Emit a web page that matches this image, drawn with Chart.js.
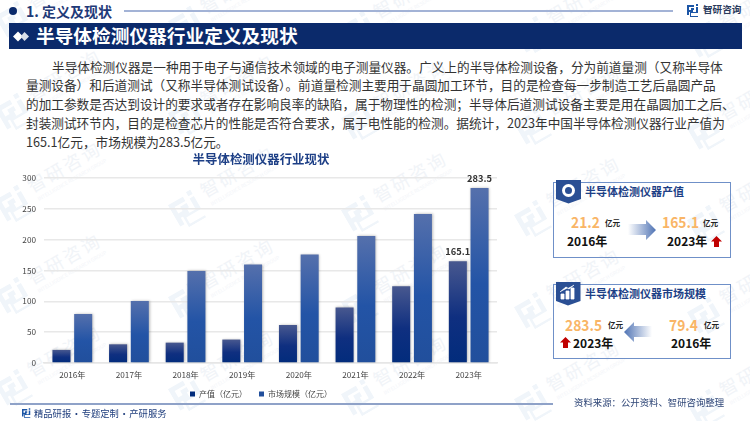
<!DOCTYPE html>
<html lang="zh"><head><meta charset="utf-8">
<script src="https://cdn.jsdelivr.net/npm/chart.js@4"></script>
<style>
*{box-sizing:border-box;margin:0;padding:0}
html,body{width:750px;height:421px;overflow:hidden;background:#fff;font-family:"Noto Sans CJK SC","Noto Sans",sans-serif}
.a{position:absolute;white-space:nowrap;line-height:1}
.b{font-weight:700}
.wm{position:absolute;width:130px;height:50px;transform:rotate(-30deg);transform-origin:0 50%}
.wm svg{position:absolute;left:0;top:8px}
.wm .t{position:absolute;left:36px;top:6px;font-size:18px;letter-spacing:2.500px;white-space:nowrap;line-height:1;color:#f1f4f8}
.wm .s{position:absolute;left:38px;top:28px;font-size:5px;white-space:nowrap;line-height:1;color:#f3f5f9}
.card{position:absolute;left:553px;width:178px;height:76px;border:1.5px solid #6f90c8;background:transparent}
.num{color:#f9b566;font-size:15px;font-weight:700;transform:scaleX(.92);transform-origin:0 50%}
.unit{font-size:7.6px;font-weight:700;color:#222}
.yr{font-size:12px;font-weight:700;color:#111}
.ct{font-size:11px;font-weight:700;color:#1d3f86}
</style></head><body>
<div id="wms"></div>

<div class="a" style="left:9px;top:7px;width:8px;height:8px;border-radius:50%;background:#0b2a6b"></div>
<div class="a b" style="left:26px;top:4px;font-size:14px;color:#1f3a78">1. 定义及现状</div>
<div class="a" style="left:124px;top:9.5px;width:549px;height:2px;background:#a3b3d6"></div>
<svg class="a" style="left:687px;top:4px" width="12" height="13" viewBox="0 0 12 13"><path d="M0 1h7v2H2v3h4v2H2v3H0zM4 4h3v2H4zM9 0h2v2H9zM9 3h2v6H4v3h7v1H3V8h6z" fill="#1c56a6"/></svg>
<div class="a b" style="left:703px;top:5px;font-size:9.6px;color:#2a3a5c">智研咨询</div>

<div class="a" style="left:9px;top:23px;width:733px;height:26px;background:#0b2a6b"></div>
<svg class="a" style="left:13px;top:31px" width="17" height="11" viewBox="0 0 17 11"><path d="M5 0.5L10 5.500L5 10.500L0 5.500z" fill="#fff"/><path d="M11.500 1L16 5.500L11.500 10L7.500 5.500z" fill="#d9dfea"/></svg>
<div class="a b" style="left:36px;top:26px;font-size:18.700px;color:#fff">半导体检测仪器行业定义及现状</div>

<div id="para"></div>

<canvas id="c" class="a" style="left:0;top:150px" width="522" height="258"></canvas>

<div class="a" style="left:10px;top:402.500px;width:543px;height:2px;background:#8fa2c8"></div>
<svg class="a" style="left:22px;top:408px" width="9" height="10" viewBox="0 0 12 13"><path d="M0 1h7v2H2v3h4v2H2v3H0zM4 4h3v2H4zM9 0h2v2H9zM9 3h2v6H4v3h7v1H3V8h6z" fill="#1c56a6"/></svg>
<div class="a" style="left:34px;top:409px;font-size:9.300px;color:#22407f;word-spacing:-1.500px">精品研报 · 专题定制 · 产研服务</div>
<div class="a" style="left:574px;top:398px;font-size:9.400px;color:#2f4677">资料来源：公开资料、智研咨询整理</div>

<div class="card" style="top:182px"></div>
<svg class="a" style="left:556px;top:180px" width="26" height="24" viewBox="0 0 26 24"><path d="M0 0H25V19L12.500 23.500L0 19z" fill="#2a4f94"/><circle cx="12.500" cy="10.500" r="6.500" fill="#fff"/><circle cx="12.500" cy="10.500" r="3.500" fill="#2a4f94"/></svg>
<div class="a ct" style="left:585px;top:186px">半导体检测仪器产值</div>
<div class="a num" style="left:571px;top:214px">21.2</div>
<div class="a unit" style="left:605px;top:219px">亿元</div>
<div class="a yr" style="left:567px;top:235px">2016年</div>
<svg class="a" style="left:628px;top:220px" width="29" height="20" viewBox="0 0 29 20"><defs><linearGradient id="g1" x1="0" x2="1" y1="0" y2="0"><stop offset="0" stop-color="#fff"/><stop offset="1" stop-color="#4f73b4"/></linearGradient></defs><path d="M0 4H18V0L28 10L18 20V15H0z" fill="url(#g1)"/></svg>
<div class="a num" style="left:662px;top:214px">165.1</div>
<div class="a unit" style="left:703px;top:219px">亿元</div>
<div class="a yr" style="left:667px;top:235px">2023年</div>
<svg class="a" style="left:711px;top:236px" width="11" height="11" viewBox="0 0 11 11"><path d="M5.500 0L11 5.500H8V11H3V5.500H0z" fill="#c00000"/></svg>

<div class="card" style="top:284px;height:75px"></div>
<svg class="a" style="left:556px;top:282px" width="25" height="24" viewBox="0 0 25 24"><path d="M0 0H24.500V19L12 23.500L0 19z" fill="#2a4f94"/><path d="M5 17h3v-5H5zM10 17h3V9h-3zM15 17h3V6h-3zM4 10L10 5L13 7L18 3" stroke="#fff" fill="#fff" stroke-width=".8"/></svg>
<div class="a ct" style="left:585px;top:288px">半导体检测仪器市场规模</div>
<div class="a num" style="left:565px;top:317px">283.5</div>
<div class="a unit" style="left:608px;top:321px">亿元</div>
<svg class="a" style="left:623px;top:322px" width="29" height="20" viewBox="0 0 29 20"><defs><linearGradient id="g2" x1="1" x2="0" y1="0" y2="0"><stop offset="0" stop-color="#fff"/><stop offset="1" stop-color="#4f73b4"/></linearGradient></defs><path d="M29 4H11V0L1 10L11 20V15H29z" fill="url(#g2)"/></svg>
<div class="a num" style="left:669px;top:317px">79.4</div>
<div class="a unit" style="left:704px;top:321px">亿元</div>
<svg class="a" style="left:560px;top:337px" width="11" height="11" viewBox="0 0 11 11"><path d="M5.500 0L11 5.500H8V11H3V5.500H0z" fill="#c00000"/></svg>
<div class="a yr" style="left:573px;top:337px">2023年</div>
<div class="a yr" style="left:671px;top:337px">2016年</div>

<script>
const categories=["2016年","2017年","2018年","2019年","2020年","2021年","2022年","2023年"];
const outputValues=[21.2,30.3,33,38,61.6,90,124.4,165.1];
const marketValues=[79.4,100.5,149.2,159.5,175.8,206,241.6,283.5];
const yTicks=[0,50,100,150,200,250,300];
const seriesNames=["产值（亿元）","市场规模（亿元）"];
const shownLabels=[{"dataset":0,"index":7,"text":"165.1"},{"dataset":1,"index":7,"text":"283.5"}];
const paragraphLines=[
"半导体检测仪器是一种用于电子与通信技术领域的电子测量仪器。广义上的半导体检测设备，分为前道量测（又称半导体",
"量测设备）和后道测试（又称半导体测试设备）。前道量检测主要用于晶圆加工环节，目的是检查每一步制造工艺后晶圆产品",
"的加工参数是否达到设计的要求或者存在影响良率的缺陷，属于物理性的检测；半导体后道测试设备主要是用在晶圆加工之后、",
"封装测试环节内，目的是检查芯片的性能是否符合要求，属于电性能的检测。据统计，2023年中国半导体检测仪器行业产值为",
"165.1亿元，市场规模为283.5亿元。"];

const para=document.getElementById('para');
paragraphLines.forEach((t,i)=>{
  const d=document.createElement('div');d.className='a';d.textContent=t;
  d.style.cssText=`left:${i==0?52:26}px;top:${60.500+i*18.750}px;font-size:12.670px;color:#333`;
  para.appendChild(d);
});
const wms=document.getElementById('wms');
const logo='<svg width="30" height="32" viewBox="0 0 12 13"><path d="M0 1h7v2H2v3h4v2H2v3H0zM4 4h3v2H4zM9 0h2v2H9zM9 3h2v6H4v3h7v1H3V8h6z" fill="#f0f5fa"/></svg>';
for(let r=0;r<5;r++)for(let c=0;c<5;c++){
  const w=document.createElement('div');w.className='wm';
  w.style.left=(2+c*173)+'px';w.style.top=(4+r*92+c*5)+'px';
  w.innerHTML=logo+'<div class="t">智研咨询</div><div class="s">INTELLIGENCE RESEARCH GROUP</div>';
  wms.appendChild(w);
}

function grad(stops,solid){
  return c=>{
    if(c.dataIndex===undefined||!c.chart.chartArea)return solid;
    const y=c.chart.scales.y,t=y.getPixelForValue(c.raw),b=y.getPixelForValue(0);
    const g=c.chart.ctx.createLinearGradient(0,t,0,b);
    stops.forEach(s=>g.addColorStop(s[0],s[1]));
    return g;
  };
}
const shadow={id:'shadow',
  beforeDatasetDraw(ch){const x=ch.ctx;x.save();x.shadowColor='rgba(0,0,0,.28)';x.shadowBlur=2.500;x.shadowOffsetX=.8;x.shadowOffsetY=0;},
  afterDatasetDraw(ch){ch.ctx.restore();}};
const valueLabels={id:'valueLabels',afterDatasetsDraw(ch){
  const x=ch.ctx;x.save();x.font='700 9.300px "Noto Sans CJK SC"';x.fillStyle='#333';x.textAlign='center';x.textBaseline='bottom';
  shownLabels.forEach(l=>{const e=ch.getDatasetMeta(l.dataset).data[l.index];x.fillText(l.text,e.x,e.y-5);});
  x.restore();}};

new Chart(document.getElementById('c'),{
  type:'bar',
  data:{labels:categories,datasets:[
    {label:seriesNames[0]+"\u3000",data:outputValues,backgroundColor:grad([[0,'#48588f'],[.55,'#0f2f80'],[1,'#022c7c']],'#0b2f7e')},
    {label:seriesNames[1],data:marketValues,backgroundColor:grad([[0,'#5570ac'],[.55,'#2354a6'],[1,'#214f9c']],'#2354a6')}
  ]},
  options:{
    responsive:false,animation:false,
    layout:{padding:0},
    datasets:{bar:{categoryPercentage:.767,barPercentage:.83}},
    plugins:{
      title:{display:true,text:"半导体检测仪器行业现状",color:'#1d3f86',font:{family:'"Noto Sans CJK SC"',size:12.450,weight:'700'},padding:{top:2,bottom:11}},
      legend:{position:'bottom',labels:{boxWidth:5,boxHeight:5,padding:8,color:'#444',font:{family:'"Noto Sans CJK SC"',size:8}}},
      tooltip:{enabled:false}
    },
    scales:{
      x:{afterFit(a){a.height=19;},grid:{display:false},border:{color:'#e6e6e6',width:1.500},ticks:{color:'#444',padding:-1,font:{family:'"Noto Sans CJK SC"',size:8.200}}},
      y:{min:0,max:300,afterBuildTicks(a){a.ticks=yTicks.map(v=>({value:v}));},afterFit(a){a.width=44;},
         grid:{color:'#e8e8e8',lineWidth:1.500,drawTicks:false},border:{display:false},
         ticks:{color:'#444',padding:8,font:{family:'"Noto Sans CJK SC"',size:8.200}}},
      rightGap:{position:'right',display:true,afterFit(a){a.width=25;},grid:{display:false,drawOnChartArea:false},border:{display:false},ticks:{display:false}}
    }
  },
  plugins:[shadow,valueLabels]
});
</script>
</body></html>
